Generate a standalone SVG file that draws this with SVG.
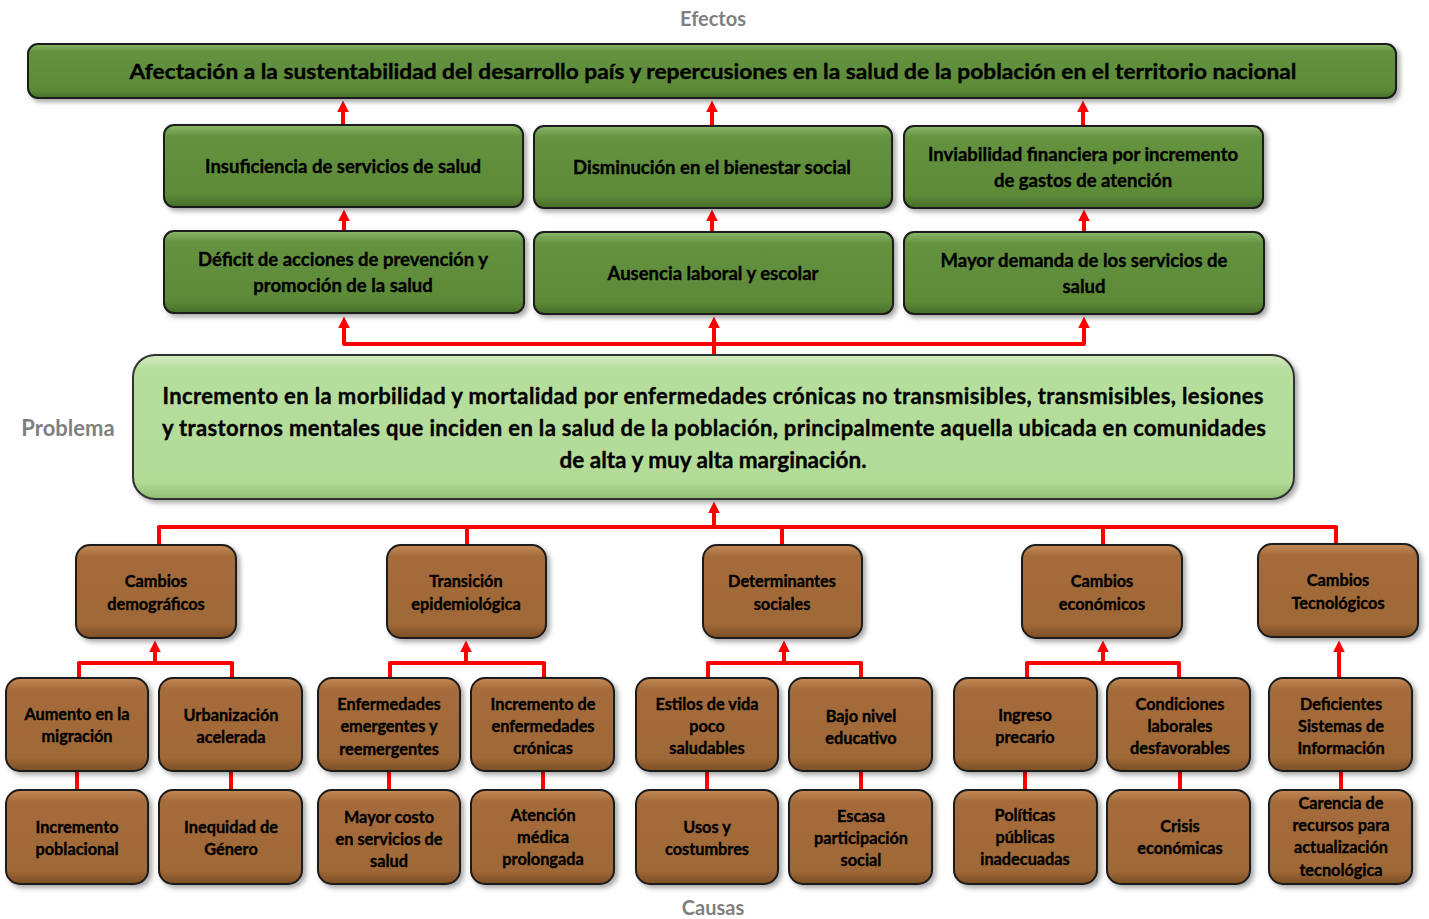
<svg xmlns="http://www.w3.org/2000/svg" width="1429" height="919" viewBox="0 0 1429 919">
<style>
  .lbl{font-family:Lato,"Liberation Sans",sans-serif;font-weight:bold;fill:#7f7f7f;text-anchor:middle}
  .t{font-family:Lato,"Liberation Sans",sans-serif;font-weight:bold;fill:#000;stroke:#000;stroke-width:0.35;text-anchor:middle}
  .gt{font-size:18.5px}
  .bt{font-size:16.3px}
  .g{fill:url(#gg);stroke:#1a1a1a;stroke-width:2;filter:url(#sh)}
  .b{fill:url(#bg);stroke:#1a1a1a;stroke-width:2;filter:url(#sh)}
  .p{fill:url(#pg);stroke:#333;stroke-width:2;filter:url(#sh)}
  .c{fill:none;stroke:#ff0000;stroke-width:4;stroke-linejoin:round}
  .a{marker-end:url(#ah)}
</style>
<defs>
  <linearGradient id="gg" x1="0" y1="0" x2="0" y2="1">
    <stop offset="0" stop-color="#8cb86a"/>
    <stop offset="0.14" stop-color="#64923f"/>
    <stop offset="0.85" stop-color="#5c8a38"/>
    <stop offset="1" stop-color="#456d28"/>
  </linearGradient>
  <linearGradient id="bg" x1="0" y1="0" x2="0" y2="1">
    <stop offset="0" stop-color="#c48a57"/>
    <stop offset="0.12" stop-color="#a56c3b"/>
    <stop offset="0.86" stop-color="#9f6837"/>
    <stop offset="1" stop-color="#7b4d24"/>
  </linearGradient>
  <linearGradient id="pg" x1="0" y1="0" x2="0" y2="1">
    <stop offset="0" stop-color="#d3ecc1"/>
    <stop offset="0.1" stop-color="#b6de9d"/>
    <stop offset="0.88" stop-color="#b2db98"/>
    <stop offset="1" stop-color="#8fbd74"/>
  </linearGradient>
  <filter id="sh" x="-10%" y="-20%" width="120%" height="150%">
    <feDropShadow dx="3" dy="3" stdDeviation="2.5" flood-color="#000" flood-opacity="0.35"/>
  </filter>
  <marker id="ah" viewBox="0 0 10 10" refX="2" refY="5" markerWidth="3" markerHeight="3" orient="auto">
    <path d="M0,0 L10,5 L0,10 z" fill="#ff0000"/>
  </marker>
</defs>

<text class="lbl" x="713" y="26" font-size="20">Efectos</text>
<text class="lbl" x="68" y="436" font-size="22">Problema</text>
<text class="lbl" x="713" y="915" font-size="20">Causas</text>

<g id="connectors">
  <path class="c a" d="M343,125 V110"/>
  <path class="c a" d="M712,126 V110"/>
  <path class="c a" d="M1083,126 V110"/>
  <path class="c a" d="M344,231 V219"/>
  <path class="c a" d="M712,232 V219"/>
  <path class="c a" d="M1084,232 V219"/>
  <path class="c a" d="M714,355 V326"/>
  <path class="c a" d="M714,344 H344 V326"/>
  <path class="c a" d="M714,344 H1084 V326"/>
  <path class="c a" d="M714,527 V511"/>
  <path class="c" d="M159,545 V527 H1336 V545"/>
  <path class="c" d="M467,527 V545 M782,527 V545 M1103,527 V545"/>
  <path class="c" d="M79,678 V663 H232 V678"/>
  <path class="c a" d="M155,663 V650"/>
  <path class="c" d="M390,678 V663 H544 V678"/>
  <path class="c a" d="M466,663 V650"/>
  <path class="c" d="M708,678 V663 H861 V678"/>
  <path class="c a" d="M784,663 V650"/>
  <path class="c" d="M1027,678 V663 H1179 V678"/>
  <path class="c a" d="M1103,663 V650"/>
  <path class="c a" d="M1339,678 V650"/>
  <path class="c" d="M77,771 V790 M231,771 V790 M389,771 V790 M543,771 V790 M707,771 V790 M861,771 V790 M1025,771 V790 M1180,771 V790 M1341,771 V790"/>
</g>

<g id="efecto-principal">
  <rect class="g" x="28" y="44" width="1368" height="54" rx="10"/>
  <text class="t" x="713" y="79" font-size="21" textLength="1167" lengthAdjust="spacingAndGlyphs">Afectación a la sustentabilidad del desarrollo país y repercusiones en la salud de la población  en el territorio nacional</text>
</g>
<g id="e1"><rect class="g" x="164" y="125" width="359" height="82" rx="10"/>
  <text class="t gt" x="343" y="173">Insuficiencia de servicios de salud</text></g>
<g id="e2"><rect class="g" x="534" y="126" width="358" height="82" rx="10"/>
  <text class="t gt" x="712" y="174">Disminución en el bienestar social</text></g>
<g id="e3"><rect class="g" x="904" y="126" width="359" height="82" rx="10"/>
  <text class="t gt" x="1083" y="161">Inviabilidad financiera por incremento</text>
  <text class="t gt" x="1083" y="187">de gastos de atención</text></g>
<g id="e4"><rect class="g" x="164" y="231" width="360" height="82" rx="10"/>
  <text class="t gt" x="343" y="266">Déficit de acciones de prevención y</text>
  <text class="t gt" x="343" y="292">promoción  de la salud</text></g>
<g id="e5"><rect class="g" x="534" y="232" width="359" height="82" rx="10"/>
  <text class="t gt" x="713" y="280">Ausencia laboral y escolar</text></g>
<g id="e6"><rect class="g" x="904" y="232" width="360" height="82" rx="10"/>
  <text class="t gt" x="1084" y="267">Mayor demanda de los servicios de</text>
  <text class="t gt" x="1084" y="293">salud</text></g>

<g id="problema">
  <rect class="p" x="133" y="355" width="1161" height="144" rx="22"/>
  <text class="t" font-size="22" x="713" y="404" textLength="1101" lengthAdjust="spacing">Incremento en la morbilidad  y mortalidad  por enfermedades crónicas no transmisibles, transmisibles, lesiones</text>
  <text class="t" font-size="22" x="714" y="436" textLength="1104" lengthAdjust="spacing">y trastornos mentales que inciden  en la salud de la población,  principalmente  aquella ubicada  en comunidades</text>
  <text class="t" font-size="22.5" x="713" y="468">de alta y muy alta marginación.</text>
</g>

<g id="c1"><rect class="b" x="76" y="545" width="160" height="93" rx="14"/>
  <text class="t bt" x="156" y="587">Cambios</text><text class="t bt" x="156" y="610">demográficos</text></g>
<g id="c2"><rect class="b" x="387" y="545" width="159" height="93" rx="14"/>
  <text class="t bt" x="466" y="587">Transición</text><text class="t bt" x="466" y="610">epidemiológica</text></g>
<g id="c3"><rect class="b" x="703" y="545" width="159" height="93" rx="14"/>
  <text class="t bt" x="782" y="587">Determinantes</text><text class="t bt" x="782" y="610">sociales</text></g>
<g id="c4"><rect class="b" x="1022" y="545" width="160" height="93" rx="14"/>
  <text class="t bt" x="1102" y="587">Cambios</text><text class="t bt" x="1102" y="610">económicos</text></g>
<g id="c5"><rect class="b" x="1258" y="544" width="160" height="93" rx="14"/>
  <text class="t bt" x="1338" y="586">Cambios</text><text class="t bt" x="1338" y="609">Tecnológicos</text></g>

<g id="s1"><rect class="b" x="6" y="678" width="142" height="93" rx="14"/>
  <text class="t bt" x="77" y="720">Aumento en la</text><text class="t bt" x="77" y="742">migración</text></g>
<g id="s2"><rect class="b" x="159" y="678" width="143" height="93" rx="14"/>
  <text class="t bt" x="231" y="721">Urbanización</text><text class="t bt" x="231" y="743">acelerada</text></g>
<g id="s3"><rect class="b" x="318" y="678" width="142" height="93" rx="14"/>
  <text class="t bt" x="389" y="710">Enfermedades</text><text class="t bt" x="389" y="732">emergentes y</text><text class="t bt" x="389" y="755">reemergentes</text></g>
<g id="s4"><rect class="b" x="471" y="678" width="143" height="93" rx="14"/>
  <text class="t bt" x="543" y="710">Incremento de</text><text class="t bt" x="543" y="732">enfermedades</text><text class="t bt" x="543" y="754">crónicas</text></g>
<g id="s5"><rect class="b" x="636" y="678" width="142" height="93" rx="14"/>
  <text class="t bt" x="707" y="710">Estilos de vida</text><text class="t bt" x="707" y="732">poco</text><text class="t bt" x="707" y="754">saludables</text></g>
<g id="s6"><rect class="b" x="789" y="678" width="143" height="93" rx="14"/>
  <text class="t bt" x="861" y="722">Bajo nivel</text><text class="t bt" x="861" y="744">educativo</text></g>
<g id="s7"><rect class="b" x="954" y="678" width="143" height="93" rx="14"/>
  <text class="t bt" x="1025" y="721">Ingreso</text><text class="t bt" x="1025" y="743">precario</text></g>
<g id="s8"><rect class="b" x="1107" y="678" width="143" height="93" rx="14"/>
  <text class="t bt" x="1180" y="710">Condiciones</text><text class="t bt" x="1180" y="732">laborales</text><text class="t bt" x="1180" y="754">desfavorables</text></g>
<g id="s9"><rect class="b" x="1269" y="678" width="143" height="93" rx="14"/>
  <text class="t bt" x="1341" y="710">Deficientes</text><text class="t bt" x="1341" y="732">Sistemas de</text><text class="t bt" x="1341" y="754">Información</text></g>

<g id="r1"><rect class="b" x="6" y="790" width="142" height="94" rx="14"/>
  <text class="t bt" x="77" y="833">Incremento</text><text class="t bt" x="77" y="855">poblacional</text></g>
<g id="r2"><rect class="b" x="159" y="790" width="143" height="94" rx="14"/>
  <text class="t bt" x="231" y="833">Inequidad de</text><text class="t bt" x="231" y="855">Género</text></g>
<g id="r3"><rect class="b" x="318" y="790" width="142" height="94" rx="14"/>
  <text class="t bt" x="389" y="823">Mayor costo</text><text class="t bt" x="389" y="845">en servicios de</text><text class="t bt" x="389" y="867">salud</text></g>
<g id="r4"><rect class="b" x="471" y="790" width="143" height="94" rx="14"/>
  <text class="t bt" x="543" y="821">Atención</text><text class="t bt" x="543" y="843">médica</text><text class="t bt" x="543" y="865">prolongada</text></g>
<g id="r5"><rect class="b" x="636" y="790" width="142" height="94" rx="14"/>
  <text class="t bt" x="707" y="833">Usos y</text><text class="t bt" x="707" y="855">costumbres</text></g>
<g id="r6"><rect class="b" x="789" y="790" width="143" height="94" rx="14"/>
  <text class="t bt" x="861" y="822">Escasa</text><text class="t bt" x="861" y="844">participación</text><text class="t bt" x="861" y="866">social</text></g>
<g id="r7"><rect class="b" x="954" y="790" width="143" height="94" rx="14"/>
  <text class="t bt" x="1025" y="821">Políticas</text><text class="t bt" x="1025" y="843">públicas</text><text class="t bt" x="1025" y="865">inadecuadas</text></g>
<g id="r8"><rect class="b" x="1107" y="790" width="143" height="94" rx="14"/>
  <text class="t bt" x="1180" y="832">Crisis</text><text class="t bt" x="1180" y="854">económicas</text></g>
<g id="r9"><rect class="b" x="1269" y="790" width="143" height="94" rx="14"/>
  <text class="t bt" x="1341" y="809">Carencia de</text><text class="t bt" x="1341" y="831">recursos para</text><text class="t bt" x="1341" y="853">actualización</text><text class="t bt" x="1341" y="876">tecnológica</text></g>
</svg>
